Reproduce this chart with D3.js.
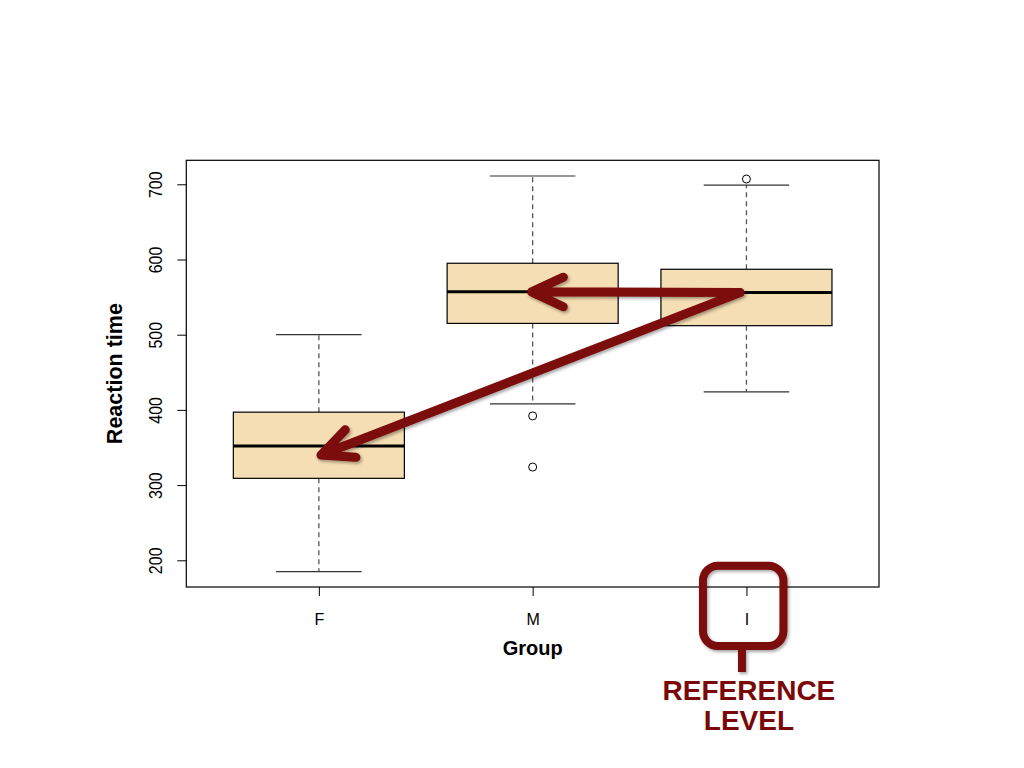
<!DOCTYPE html>
<html>
<head>
<meta charset="utf-8">
<script src="https://cdn.jsdelivr.net/npm/d3@7"></script>
<style>
  html, body { margin: 0; padding: 0; background: #fff; }
  svg { display: block; font-family: "Liberation Sans", Arial, Helvetica, sans-serif; }
</style>
</head>
<body>
<svg id="chart" width="1024" height="768"></svg>
<script>
// ---- data ----
const groups = ["F", "M", "I"];
const whiskerLow  = [185, 408, 424];
const q1          = [309, 515, 512];
const medians     = [352, 557, 556];
const q3          = [397, 595, 587];
const whiskerHigh = [500, 711, 699];
const outliers    = [[], [392, 324], [707]];
const yTicks      = [200, 300, 400, 500, 600, 700];
const yDomain     = [164.5, 731.9];
const xLabel = "Group";
const yLabel = "Reaction time";
const noteLines = ["REFERENCE", "LEVEL"];
// arrows: from reference level median towards other groups (group position, value)
const arrowFrom = [2.97, 556];
const arrowTargets = [[1.995, 557], [1.01, 340]];

// ---- layout ----
const svg = d3.select("#chart");
const plot = {left: 186.3, right: 879, top: 160.3, bottom: 587};
const x = d3.scaleLinear().domain([0.38, 3.62]).range([plot.left, plot.right]);
const y = d3.scaleLinear().domain(yDomain).range([plot.bottom, plot.top]);
const dark = "#7b0808";

const defs = svg.append("defs");
const f = defs.append("filter").attr("id", "shadow")
  .attr("x", "-20%").attr("y", "-20%").attr("width", "140%").attr("height", "140%");
f.append("feDropShadow").attr("dx", 1.5).attr("dy", 2).attr("stdDeviation", 1.5)
  .attr("flood-color", "#000").attr("flood-opacity", 0.35);

const data = groups.map((g, i) => ({
  g, i: i + 1, lo: whiskerLow[i], q1: q1[i], med: medians[i], q3: q3[i], hi: whiskerHigh[i], out: outliers[i]
}));

const boxes = svg.append("g").selectAll("g").data(data).join("g");
// whiskers (dashed)
boxes.append("line")
  .attr("x1", d => x(d.i)).attr("x2", d => x(d.i))
  .attr("y1", d => y(d.q3)).attr("y2", d => y(d.hi))
  .attr("stroke", "#555").attr("stroke-width", 1.3).attr("stroke-dasharray", "5,4");
boxes.append("line")
  .attr("x1", d => x(d.i)).attr("x2", d => x(d.i))
  .attr("y1", d => y(d.q1)).attr("y2", d => y(d.lo))
  .attr("stroke", "#555").attr("stroke-width", 1.3).attr("stroke-dasharray", "5,4");
// caps
[["hi"], ["lo"]].forEach(([k]) => {
  boxes.append("line")
    .attr("x1", d => x(d.i - 0.2)).attr("x2", d => x(d.i + 0.2))
    .attr("y1", d => y(d[k])).attr("y2", d => y(d[k]))
    .attr("stroke", "#333").attr("stroke-width", 1.2);
});
// box
boxes.append("rect")
  .attr("x", d => x(d.i - 0.4)).attr("width", d => x(d.i + 0.4) - x(d.i - 0.4))
  .attr("y", d => y(d.q3)).attr("height", d => y(d.q1) - y(d.q3))
  .attr("fill", "#f5deb3").attr("stroke", "#000").attr("stroke-width", 1.2);
// median
boxes.append("line")
  .attr("x1", d => x(d.i - 0.4)).attr("x2", d => x(d.i + 0.4))
  .attr("y1", d => y(d.med)).attr("y2", d => y(d.med))
  .attr("stroke", "#000").attr("stroke-width", 3);
// outliers
boxes.selectAll("circle").data(d => d.out.map(v => ({i: d.i, v}))).join("circle")
  .attr("cx", d => x(d.i)).attr("cy", d => y(d.v)).attr("r", 4)
  .attr("fill", "none").attr("stroke", "#000").attr("stroke-width", 1);

// plot frame
svg.append("rect")
  .attr("x", plot.left).attr("y", plot.top)
  .attr("width", plot.right - plot.left).attr("height", plot.bottom - plot.top)
  .attr("fill", "none").attr("stroke", "#000").attr("stroke-width", 1.2);

// y axis
const yAxis = svg.append("g").attr("transform", `translate(${plot.left},0)`)
  .call(d3.axisLeft(y).tickValues(yTicks).tickSize(9).tickPadding(0).tickFormat(d3.format("d")));
yAxis.select(".domain").remove();
yAxis.selectAll(".tick line").attr("stroke", "#000");
yAxis.selectAll(".tick text")
  .attr("x", null).attr("dy", null)
  .attr("transform", "translate(-24.5,0) rotate(-90) scale(1,1.12)")
  .attr("text-anchor", "middle")
  .attr("font-size", 16).attr("font-family", "Liberation Sans, Arial, sans-serif")
  .attr("fill", "#000");

// x axis
const xAxis = svg.append("g").attr("transform", `translate(0,${plot.bottom})`)
  .call(d3.axisBottom(x).tickValues([1, 2, 3]).tickSize(9).tickPadding(0).tickFormat(d => groups[d - 1]));
xAxis.select(".domain").remove();
xAxis.selectAll(".tick line").attr("stroke", "#000");
xAxis.selectAll(".tick text")
  .attr("y", 38).attr("dy", null)
  .attr("font-size", 16).attr("font-family", "Liberation Sans, Arial, sans-serif")
  .attr("fill", "#000");

// axis titles
svg.append("text").attr("x", x(2)).attr("y", 654.5).attr("text-anchor", "middle")
  .attr("font-size", 20).attr("font-weight", "bold").text(xLabel);
svg.append("text").attr("transform", `translate(122,${(plot.top + plot.bottom) / 2}) rotate(-90)`)
  .attr("text-anchor", "middle").attr("font-size", 21.5).attr("font-weight", "bold").text(yLabel);

// arrows
const arrows = svg.append("g").attr("filter", "url(#shadow)");
function arrowPath(from, to) {
  const x0 = x(from[0]), y0 = y(from[1]), x1 = x(to[0]), y1 = y(to[1]);
  const ang = Math.atan2(y0 - y1, x0 - x1);
  const len = 35, spread = 25 * Math.PI / 180;
  const a1 = [x1 + len * Math.cos(ang - spread), y1 + len * Math.sin(ang - spread)];
  const a2 = [x1 + len * Math.cos(ang + spread), y1 + len * Math.sin(ang + spread)];
  return `M${x0},${y0}L${x1},${y1}M${a1[0]},${a1[1]}L${x1},${y1}L${a2[0]},${a2[1]}`;
}
arrows.selectAll("path").data(arrowTargets).join("path")
  .attr("d", t => arrowPath(arrowFrom, t))
  .attr("fill", "none").attr("stroke", dark).attr("stroke-width", 9)
  .attr("stroke-linecap", "round").attr("stroke-linejoin", "round");

// reference level callout
const cx = x(3);
const call = svg.append("g").attr("filter", "url(#shadow)");
call.append("rect")
  .attr("x", cx - 43.5).attr("y", 565.7).attr("width", 80.5).attr("height", 80.3)
  .attr("rx", 15).attr("ry", 15)
  .attr("fill", "none").attr("stroke", dark).attr("stroke-width", 8);
call.append("line")
  .attr("x1", cx - 4.5).attr("x2", cx - 4.5).attr("y1", 649).attr("y2", 672)
  .attr("stroke", dark).attr("stroke-width", 8);
svg.append("g").selectAll("text").data(noteLines).join("text")
  .attr("x", cx + 2.5).attr("y", (d, i) => 700 + i * 29.5)
  .attr("text-anchor", "middle").attr("font-size", 28).attr("font-weight", "bold")
  .attr("fill", dark).text(d => d);
</script>
</body>
</html>
